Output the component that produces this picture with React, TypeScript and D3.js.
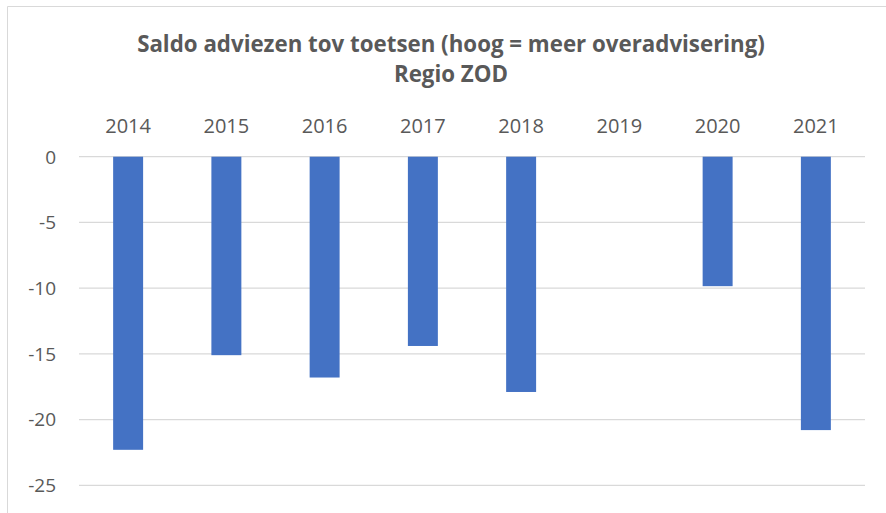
import React from "react";
import * as d3 from "d3";

const years = ["2014", "2015", "2016", "2017", "2018", "2019", "2020", "2021"];
const saldo: (number | null)[] = [-22.3, -15.1, -16.8, -14.4, -17.9, null, -9.85, -20.8];
const yTicks = [0, -5, -10, -15, -20, -25];
const titleLines = ["Saldo adviezen tov toetsen (hoog = meer overadvisering)", "Regio ZOD"];

const W = 886;
const H = 513;
const TEXT = "#595959";
const GRID = "#d9d9d9";
const BAR = "#4472C4";
const FONT = "'Open Sans', 'Noto Sans', sans-serif";

export default function App() {
  const x = d3
    .scaleBand<string>()
    .domain(years)
    .range([79, 865])
    .paddingInner(0.695)
    .paddingOuter(0.3475);
  const y = d3.scaleLinear().domain([-25, 0]).range([485.3, 156.7]);

  return (
    <svg
      width={W}
      height={H}
      style={{ position: "fixed", left: 0, top: 0, background: "#fff" }}
      fontFamily={FONT}
    >
      <rect x={0} y={0} width={W} height={H} fill="#fff" />
      <path d={`M7.5,${H + 2}V6.5H${W + 2}`} fill="none" stroke={GRID} strokeWidth={1} />
      {titleLines.map((t, i) => (
        <text
          key={t}
          x={451}
          y={51.7 + i * 30}
          textAnchor="middle"
          fontSize={22.3}
          fontWeight="bold"
          fill={TEXT}
        >
          {t}
        </text>
      ))}
      {yTicks.map((t) => (
        <g key={t}>
          <line x1={79} x2={865} y1={y(t)} y2={y(t)} stroke={GRID} strokeWidth={1.3} />
          <text
            x={56}
            y={y(t)}
            dy="0.36em"
            textAnchor="end"
            fontSize={19}
            fill={TEXT}
          >
            {t}
          </text>
        </g>
      ))}
      {years.map((yr) => (
        <text
          key={yr}
          x={(x(yr) ?? 0) + x.bandwidth() / 2}
          y={132.7}
          textAnchor="middle"
          fontSize={20}
          fill={TEXT}
        >
          {yr}
        </text>
      ))}
      {years.map((yr, i) => {
        const v = saldo[i];
        if (v === null) return null;
        return (
          <rect
            key={yr}
            x={x(yr)}
            y={y(0)}
            width={x.bandwidth()}
            height={y(v) - y(0)}
            fill={BAR}
          />
        );
      })}
    </svg>
  );
}
